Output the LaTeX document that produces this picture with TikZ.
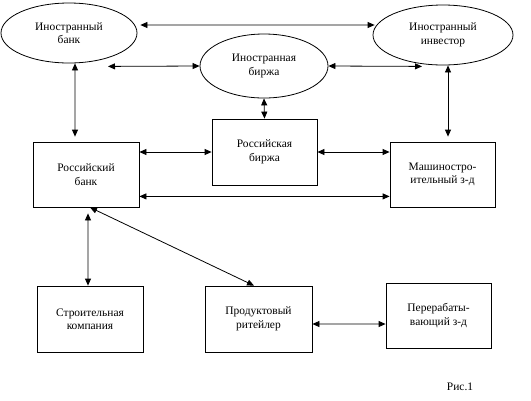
\documentclass[tikz,border=0pt]{standalone}
\usepackage{fontspec}
\setmainfont{Liberation Serif}
\usetikzlibrary{arrows.meta,shapes.geometric,calc}
\tikzset{
  ov/.style={draw,ellipse,inner sep=0pt,line width=0.8bp,align=center,font=\fontsize{11.5}{13.5}\selectfont},
  bx/.style={draw,rectangle,inner sep=0pt,line width=0.8bp,align=center,font=\fontsize{11.5}{13.5}\selectfont},
  link/.style={line width=0.8bp,{Triangle[length=7bp,width=6bp]}-{Triangle[length=7bp,width=6bp]}},
}
\begin{document}
\begin{tikzpicture}[x=1bp,y=-1bp]
\useasboundingbox (0,0) rectangle (531,400);
% ellipses
\node[ov,minimum width=136bp,minimum height=60bp] (e1) at (69,33) {Иностранный\\банк};
\node[ov,minimum width=128bp,minimum height=64bp] (e2) at (264,66) {Иностранная\\биржа};
\node[ov,minimum width=140bp,minimum height=60bp] (e3) at (443,35) {Иностранный\\инвестор};
% boxes
\node[bx,minimum width=106bp,minimum height=65bp] (rb) at (86,174.5) {Российский\\банк};
\node[bx,minimum width=105bp,minimum height=66bp] (rx) at (264.5,152) {Российская\\биржа};
\node[bx,minimum width=105bp,minimum height=65bp] (mz) at (442.5,174.5) {Машиностро-\\ительный з-д};
\node[bx,minimum width=106bp,minimum height=66bp] (sk) at (90,319) {Строительная\\компания};
\node[bx,minimum width=107bp,minimum height=66bp] (pr) at (258.5,319) {Продуктовый\\ритейлер};
\node[bx,minimum width=105bp,minimum height=65bp] (pz) at (438.5,315.5) {Перерабаты-\\вающий з-д};
\node[font=\fontsize{11.5}{13.5}\selectfont] (fig) at (460,387) {Рис.1};
% connectors
\draw[link] ([xshift=3bp,yshift=8bp]e1.east) -- ([xshift=2bp,yshift=10bp]e3.west);
\draw[link] ([xshift=39bp,yshift=-3bp]e1.south) -- (e2.west);
\draw[link] (e2.east) -- ([xshift=-21bp,yshift=-1bp]e3.south);
\draw[link] ([xshift=6bp]e1.south) -- ([xshift=-11bp,yshift=5bp]rb.north);
\draw[link] ([xshift=5bp]e3.south) -- ([xshift=5.5bp,yshift=5bp]mz.north);
\draw[link] (e2.south) -- (rx.north);
\draw[link] (rb.east |- rx.west) -- (rx.west);
\draw[link] (rx.east) -- (mz.west |- rx.east);
\draw[link] ([yshift=11bp]rb.south east) -- ([yshift=11bp]mz.south west);
\draw[link] ([xshift=2bp,yshift=-6bp]rb.south) -- ([xshift=-2bp]sk.north);
\draw[link] ([xshift=4bp]rb.south) -- ([xshift=-4.5bp]pr.north);
\draw[link] ([yshift=-5bp]pr.east) -- (pz.west |- {$(pr.east)+(0,5)$});
\end{tikzpicture}
\end{document}
